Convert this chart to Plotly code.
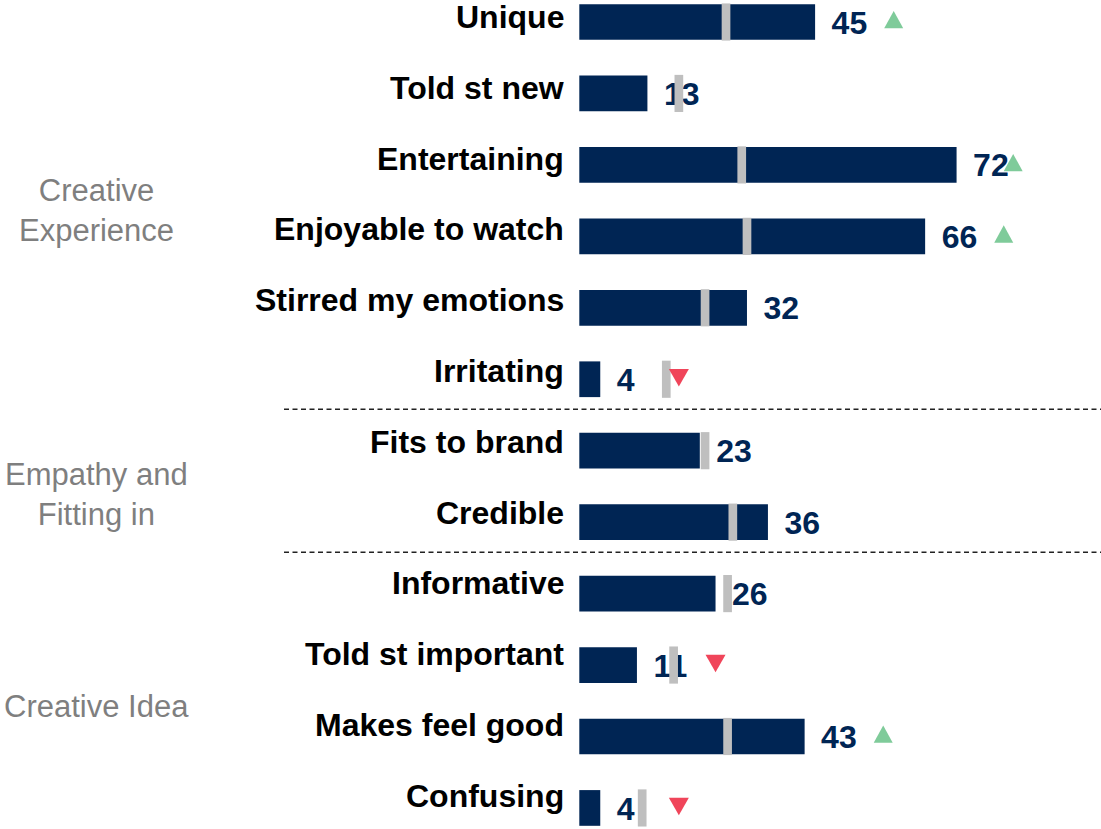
import plotly.graph_objects as go

# ---------------- data ----------------
categories = ["Unique", "Told st new", "Entertaining", "Enjoyable to watch",
              "Stirred my emotions", "Irritating", "Fits to brand", "Credible",
              "Informative", "Told st important", "Makes feel good", "Confusing"]
values = [45, 13, 72, 66, 32, 4, 23, 36, 26, 11, 43, 4]
benchmarks = [28, 19, 31, 32, 24, 16.6, 24, 29.3, 28.3, 18, 28.3, 12]
significance = ["up", "", "up", "up", "", "down", "", "", "", "down", "up", "down"]
group_names = ["Creative<br>Experience", "Empathy and<br>Fitting in", "Creative Idea"]
group_first_row = [0, 6, 8]
group_last_row = [5, 7, 11]

# ---------------- style ----------------
NAVY = "#002554"
BENCH_GRAY = "#BFBFBF"
GROUP_GRAY = "#7F7F7F"
UP_GREEN = "#7FCB9A"
DOWN_RED = "#F0455A"
FONT = "Liberation Sans, Arial, sans-serif"

W, H = 1101, 829
X0_PX = 579.3          # pixel position of value 0
PX_PER_UNIT = 5.24
ROW0_PX = 22.0         # pixel centre of first row
ROW_PITCH = 71.45
LABEL_PITCH = 70.8     # category labels are spaced slightly tighter than bars
n = len(categories)
rows = list(range(n))

x_range = [-X0_PX / PX_PER_UNIT, (W - X0_PX) / PX_PER_UNIT]
y_range = [n - 1 + (H - (ROW0_PX + ROW_PITCH * (n - 1))) / ROW_PITCH, -ROW0_PX / ROW_PITCH]

fig = go.Figure()

fig.add_trace(go.Bar(
    y=rows, x=values, orientation="h", width=0.5,
    marker=dict(color=NAVY, line=dict(width=0)),
    hoverinfo="skip", showlegend=False,
))

# value labels (scatter text so benchmark markers can sit above them)
LABEL_GAP_UNITS = 16.5 / PX_PER_UNIT
fig.add_trace(go.Scatter(
    y=[r + 0.05 for r in rows], x=[v + LABEL_GAP_UNITS for v in values],
    mode="text", text=[f"<b>{v}</b>" for v in values],
    textposition="middle right",
    textfont=dict(family=FONT, size=32, color=NAVY),
    hoverinfo="skip", showlegend=False,
))

shapes = []
# benchmark markers
half_w = 4.35 / PX_PER_UNIT
for r, b in zip(rows, benchmarks):
    shapes.append(dict(type="rect", xref="x", yref="y",
                       x0=b - half_w, x1=b + half_w, y0=r - 0.26, y1=r + 0.26,
                       fillcolor=BENCH_GRAY, line=dict(width=0), layer="above"))

# significance triangles
ARROW_OFFSET = 15
ARROW_X_MAX = 82.8
UP_PATH = "M-9.5,-6.3 L9.5,-6.3 L0,11 Z"
DOWN_PATH = "M-10,10.2 L10,10.2 L0,-7.2 Z"
for r, v, s in zip(rows, values, significance):
    if not s:
        continue
    ax = min(v + ARROW_OFFSET, ARROW_X_MAX)
    shapes.append(dict(type="path", xref="x", yref="y",
                       xsizemode="pixel", ysizemode="pixel",
                       xanchor=ax, yanchor=r,
                       path=UP_PATH if s == "up" else DOWN_PATH,
                       fillcolor=UP_GREEN if s == "up" else DOWN_RED,
                       line=dict(width=0), layer="above"))

# dashed group separators
for last in group_last_row[:-1]:
    shapes.append(dict(type="line", xref="paper", yref="y",
                       x0=284 / W, x1=1, y0=last + 0.42, y1=last + 0.42,
                       line=dict(color="#222222", width=1.5, dash="5px,3.5px")))

annotations = []
for r, c in zip(rows, categories):
    annotations.append(dict(x=0, y=r, xref="x", yref="y", text=f"<b>{c}</b>",
                            showarrow=False, xanchor="right", yanchor="middle",
                            xshift=-13, yshift=5 + (ROW_PITCH - LABEL_PITCH) * r,
                            font=dict(family=FONT, size=32, color="#000000")))

group_yshift = [-9.5, -8, -6]
for name, a, b, ys in zip(group_names, group_first_row, group_last_row, group_yshift):
    annotations.append(dict(x=96 / W, y=(a + b) / 2, xref="paper", yref="y", text=name,
                            showarrow=False, xanchor="center", yanchor="middle",
                            yshift=ys, align="center",
                            font=dict(family=FONT, size=31, color=GROUP_GRAY)))

fig.update_layout(
    width=W, height=H, autosize=False,
    margin=dict(l=0, r=0, t=0, b=0),
    paper_bgcolor="white", plot_bgcolor="white",
    barmode="overlay",
    shapes=shapes, annotations=annotations,
    xaxis=dict(range=x_range, visible=False, fixedrange=True),
    yaxis=dict(range=y_range, visible=False, fixedrange=True),
    showlegend=False,
)

fig.write_html("out.html")
